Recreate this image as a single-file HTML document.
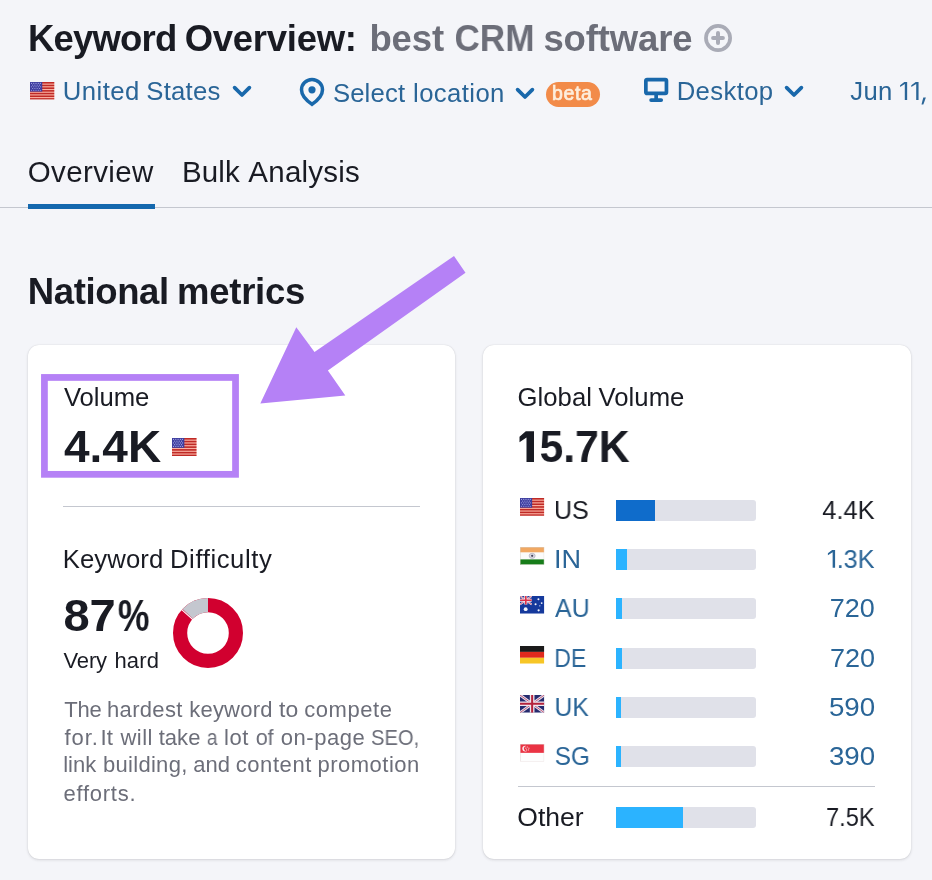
<!DOCTYPE html>
<html>
<head>
<meta charset="utf-8">
<title>Keyword Overview</title>
<style>
html,body{margin:0;padding:0;}
body{width:932px;height:880px;overflow:hidden;background:#f4f5f9;position:relative;font-family:"Liberation Sans",sans-serif;color:#191b23;}
.t{position:absolute;white-space:nowrap;line-height:1;margin:0;padding:0;will-change:transform;}
.b{font-weight:bold;}
.blue{color:#2a6597;}
.gray{color:#6c6e79;}
.abs{position:absolute;}
.card{position:absolute;background:#fff;border-radius:11px;box-shadow:0 0 1px rgba(25,27,35,.16),0 1px 3px rgba(25,27,35,.14);}
.track{position:absolute;left:616px;width:140px;height:21px;background:#e0e1e9;border-radius:0 3px 3px 0;overflow:hidden;}
.track i{display:block;height:100%;background:#2bb3ff;}
.val{position:absolute;right:57px;text-align:right;white-space:nowrap;line-height:1;font-size:25px;}
svg{position:absolute;overflow:visible;}
</style>
</head>
<body>

<svg width="0" height="0" style="position:absolute;left:-10px;top:-10px;">
<defs>
<symbol id="usflag" viewBox="0 0 26 19" preserveAspectRatio="none">
<rect width="26" height="19" fill="#fbb2a4"/>
<g fill="#bf2a26"><rect y="0.000" width="26" height="1.712"/><rect y="2.923" width="26" height="1.712"/><rect y="5.846" width="26" height="1.712"/><rect y="8.769" width="26" height="1.712"/><rect y="11.692" width="26" height="1.712"/><rect y="14.615" width="26" height="1.712"/><rect y="17.538" width="26" height="1.712"/></g>
<rect width="13" height="10.4" fill="#3f3f9f"/>
<g fill="#a3a3e6"><circle cx="1.6" cy="1.50" r=".62"/><circle cx="4.0" cy="1.50" r=".62"/><circle cx="6.4" cy="1.50" r=".62"/><circle cx="8.8" cy="1.50" r=".62"/><circle cx="11.0" cy="1.50" r=".62"/><circle cx="2.8" cy="3.35" r=".62"/><circle cx="5.2" cy="3.35" r=".62"/><circle cx="7.6" cy="3.35" r=".62"/><circle cx="10.0" cy="3.35" r=".62"/><circle cx="1.6" cy="5.20" r=".62"/><circle cx="4.0" cy="5.20" r=".62"/><circle cx="6.4" cy="5.20" r=".62"/><circle cx="8.8" cy="5.20" r=".62"/><circle cx="11.0" cy="5.20" r=".62"/><circle cx="2.8" cy="7.05" r=".62"/><circle cx="5.2" cy="7.05" r=".62"/><circle cx="7.6" cy="7.05" r=".62"/><circle cx="10.0" cy="7.05" r=".62"/><circle cx="1.6" cy="8.90" r=".62"/><circle cx="4.0" cy="8.90" r=".62"/><circle cx="6.4" cy="8.90" r=".62"/><circle cx="8.8" cy="8.90" r=".62"/><circle cx="11.0" cy="8.90" r=".62"/></g>
</symbol>
<symbol id="inflag" viewBox="0 0 24 18" preserveAspectRatio="none">
<rect width="24" height="18" fill="#fbfbfb"/>
<rect width="24" height="5.4" fill="#f1a862"/>
<rect y="12.6" width="24" height="5.4" fill="#177d1a"/>
<ellipse cx="12" cy="9" rx="3" ry="2.6" fill="#d9d7e0" stroke="#aeacbc" stroke-width=".7"/><circle cx="12" cy="9" r="1.1" fill="#45465c"/>
<rect x=".25" y=".25" width="23.5" height="17.5" fill="none" stroke="#d9d3c8" stroke-width=".5"/>
</symbol>
<symbol id="auflag" viewBox="0 0 24 18" preserveAspectRatio="none">
<rect width="24" height="18" fill="#15399c"/>
<g><rect width="11.5" height="8.6" fill="#2a3f9a"/><path d="M0 0L11.5 8.6M11.5 0L0 8.6" stroke="#e9e3ee" stroke-width="1.7"/><path d="M0 0L11.5 8.6M11.5 0L0 8.6" stroke="#d9455a" stroke-width=".7"/><path d="M5.75 0V8.6M0 4.3H11.5" stroke="#f1ecf2" stroke-width="3"/><path d="M5.75 0V8.6M0 4.3H11.5" stroke="#dc3048" stroke-width="1.6"/></g>
<g fill="#f4f5fb"><circle cx="5.6" cy="13.4" r="1.9"/><circle cx="18.2" cy="3.2" r="1"/><circle cx="21.4" cy="7.2" r=".9"/><circle cx="15.4" cy="8.4" r="1"/><circle cx="18.4" cy="14.6" r="1.1"/><circle cx="19.6" cy="10" r=".6"/></g>
</symbol>
<symbol id="deflag" viewBox="0 0 24 18" preserveAspectRatio="none">
<rect width="24" height="6" fill="#1b1a1a"/><rect y="6" width="24" height="6" fill="#e02a1d"/><rect y="12" width="24" height="6" fill="#f7c626"/>
</symbol>
<symbol id="ukflag" viewBox="0 0 24 18" preserveAspectRatio="none">
<rect width="24" height="18" fill="#262b6e"/>
<path d="M0 0L24 18M24 0L0 18" stroke="#e6deee" stroke-width="2.8"/>
<path d="M0 0L24 18M24 0L0 18" stroke="#b8405c" stroke-width=".8"/>
<path d="M12 0V18M0 9H24" stroke="#efe8f0" stroke-width="4.6"/>
<path d="M12 0V18M0 9H24" stroke="#b5233d" stroke-width="2"/>
</symbol>
<symbol id="sgflag" viewBox="0 0 24 18" preserveAspectRatio="none">
<rect width="24" height="18" fill="#fdfdfd"/>
<rect width="24" height="9" fill="#ea3343"/>
<circle cx="5.2" cy="4.6" r="2.9" fill="#fbe9ec"/><circle cx="6.5" cy="4.6" r="2.6" fill="#ea3343"/>
<g fill="#f8dfe3"><circle cx="7.2" cy="3" r=".55"/><circle cx="8.8" cy="4.2" r=".55"/><circle cx="5.8" cy="4.2" r=".55"/><circle cx="6.4" cy="6" r=".55"/><circle cx="8.2" cy="6" r=".55"/></g>
<rect x=".25" y=".25" width="23.5" height="17.5" fill="none" stroke="#e3d6d6" stroke-width=".5"/>
</symbol>
</defs>
</svg>

<!-- HEADER -->
<div class="t b" id="h1a_1" style="left:28.00px;top:20.60px;font-size:36.5px;letter-spacing:-0.832px;text-indent:0.04px;">Keyword</div>
<div class="t b" id="h1a_2" style="left:184.00px;top:20.60px;font-size:36.5px;letter-spacing:-0.292px;text-indent:0.76px;">Overview:</div>
<div class="t b gray" id="h1b_1" style="left:369.00px;top:20.60px;font-size:36.5px;letter-spacing:-0.122px;text-indent:0.40px;">best</div>
<div class="t b gray" id="h1b_2" style="left:454.00px;top:20.60px;font-size:36.5px;letter-spacing:0.000px;text-indent:0.52px;transform:scaleX(0.9631);transform-origin:0 0;">CRM</div>
<div class="t b gray" id="h1b_3" style="left:543.00px;top:20.60px;font-size:36.5px;letter-spacing:-0.121px;text-indent:0.43px;">software</div>
<svg id="plus" style="left:704px;top:24px;" width="28" height="28" viewBox="0 0 28 28"><circle cx="14.05" cy="14.05" r="12.1" fill="none" stroke="#a9abb6" stroke-width="3.7"/><path d="M9.1 14H18.9M14 9.1V18.9" stroke="#a9abb6" stroke-width="4" stroke-linecap="round" fill="none"/></svg>

<!-- filter row -->
<svg id="flagus1" style="left:30px;top:82px;" width="24.5" height="17.5" viewBox="0 0 24.5 17.5"><use href="#usflag"/></svg>
<div class="t blue" id="f1_1" style="left:62.00px;top:79.49px;font-size:25.7px;letter-spacing:0.460px;text-indent:0.82px;">United</div>
<div class="t blue" id="f1_2" style="left:146.00px;top:79.49px;font-size:25.7px;letter-spacing:0.233px;text-indent:0.37px;">States</div>
<svg class="chev" id="chev1" style="left:233px;top:86px;" width="18" height="11" viewBox="0 0 18 11"><path d="M1.6 1.6L9 9L16.4 1.6" fill="none" stroke="#1968ab" stroke-width="3.7" stroke-linecap="round" stroke-linejoin="round"/></svg>

<svg id="pin" style="left:300px;top:78px;" width="24" height="28" viewBox="0 0 24 28"><path d="M12 1.5C6.2 1.5 1.5 6.1 1.5 11.8C1.5 17.2 6.5 22.6 12 26.3C17.5 22.6 22.5 17.2 22.5 11.8C22.5 6.1 17.8 1.5 12 1.5Z" fill="none" stroke="#1968ab" stroke-width="3.5"/><circle cx="12" cy="11.8" r="3.6" fill="#1968ab"/></svg>
<div class="t blue" id="f2_1" style="left:332.00px;top:81.49px;font-size:25.7px;letter-spacing:0.162px;text-indent:0.88px;">Select</div>
<div class="t blue" id="f2_2" style="left:413.00px;top:81.49px;font-size:25.7px;letter-spacing:0.391px;text-indent:0.08px;">location</div>
<svg class="chev" id="chev2" style="left:516px;top:88px;" width="18" height="11" viewBox="0 0 18 11"><path d="M1.6 1.6L9 9L16.4 1.6" fill="none" stroke="#1968ab" stroke-width="3.7" stroke-linecap="round" stroke-linejoin="round"/></svg>
<div class="abs" id="beta" style="left:545.5px;top:82px;width:54.5px;height:24.7px;border-radius:12.4px;background:#f28b49;"></div>
<div class="t" id="betat" style="left:551.00px;top:83.99px;font-size:19.5px;color:#fdeedd;-webkit-text-stroke:0.7px #fdeedd;letter-spacing:0.614px;text-indent:0.97px;">beta</div>

<svg id="desk" style="left:644px;top:77px;" width="25" height="26" viewBox="0 0 25 26"><rect x="1.85" y="2.55" width="20.6" height="13.9" rx="1.2" fill="none" stroke="#1968ab" stroke-width="3.7"/><path d="M12.15 18V22" stroke="#1968ab" stroke-width="3.7"/><path d="M7.1 23.05H17.2" stroke="#1968ab" stroke-width="3.7" stroke-linecap="round"/></svg>
<div class="t blue" id="f3" style="left:676.00px;top:79.44px;font-size:25.7px;letter-spacing:0.382px;text-indent:0.63px;">Desktop</div>
<svg class="chev" id="chev3" style="left:785px;top:86px;" width="18" height="11" viewBox="0 0 18 11"><path d="M1.6 1.6L9 9L16.4 1.6" fill="none" stroke="#1968ab" stroke-width="3.7" stroke-linecap="round" stroke-linejoin="round"/></svg>
<div class="t blue" id="f4_1" style="left:850.00px;top:79.44px;font-size:25.7px;letter-spacing:0.204px;text-indent:0.37px;">Jun</div>

<!-- tabs -->
<div class="t" id="tab1" style="left:27.00px;top:157.03px;font-size:29.5px;letter-spacing:0.378px;text-indent:0.79px;">Overview</div>
<div class="t" id="tab2_1" style="left:181.00px;top:157.03px;font-size:29.5px;letter-spacing:0.165px;text-indent:0.95px;">Bulk</div>
<div class="t" id="tab2_2" style="left:248.00px;top:157.03px;font-size:29.5px;letter-spacing:0.222px;text-indent:0.36px;">Analysis</div>
<div class="abs" id="tabline" style="left:0;top:206.5px;width:932px;height:1.5px;background:#c4c7cf;"></div>
<div class="abs" id="tabul" style="left:28px;top:204px;width:127px;height:5px;background:#1468ae;"></div>

<div class="t b" id="h2_1" style="left:27.00px;top:273.50px;font-size:36.5px;letter-spacing:-0.370px;text-indent:0.77px;">National</div>
<div class="t b" id="h2_2" style="left:176.00px;top:273.50px;font-size:36.5px;letter-spacing:-0.227px;text-indent:0.92px;">metrics</div>

<!-- CARDS -->
<div class="card" id="card1" style="left:28px;top:345px;width:427px;height:513.5px;"></div>
<div class="card" id="card2" style="left:483px;top:345px;width:427.5px;height:513.5px;"></div>

<!-- card 1 -->
<svg id="pbox" style="left:0;top:0;" width="932" height="880"><rect x="44.43" y="377.45" width="191.1" height="96.88" fill="none" stroke="#b581f6" stroke-width="6.75"/></svg>
<div class="t" id="c1a" style="left:63.00px;top:384.94px;font-size:25.7px;letter-spacing:-0.038px;text-indent:0.93px;">Volume</div>
<div class="t b" id="c1b" style="left:63.00px;top:425.33px;font-size:44.5px;letter-spacing:0.000px;text-indent:0.95px;transform:scaleX(1.0334);transform-origin:0 0;">4.4K</div>
<svg id="flagus2" style="left:171.8px;top:438px;" width="24.7" height="18"><use href="#usflag" width="24.7" height="18"/></svg>
<div class="abs" id="div1" style="left:63px;top:505.8px;width:357px;height:1.2px;background:#c4c7cf;"></div>
<div class="t" id="c1c_1" style="left:62.00px;top:546.84px;font-size:25.7px;letter-spacing:0.100px;text-indent:0.72px;">Keyword</div>
<div class="t" id="c1c_2" style="left:169.00px;top:546.84px;font-size:25.7px;letter-spacing:0.592px;text-indent:0.96px;">Difficulty</div>
<div class="t b" id="c1d_1" style="left:63.00px;top:593.93px;font-size:44.5px;letter-spacing:0.000px;transform:scaleX(1.0588);transform-origin:0 0;text-indent:0.39px;">87</div>
<div class="t b" id="c1d_2" style="left:117.00px;top:593.93px;font-size:44.5px;letter-spacing:0.000px;transform:scaleX(0.8013);transform-origin:0 0;text-indent:0.96px;">%</div>
<svg id="donut" style="left:173px;top:597.5px;" width="70" height="70" viewBox="-35 -35 70 70">
<circle r="27.9" fill="none" stroke="#d1002f" stroke-width="14.2"/>
<path d="M0 -27.9A27.9 27.9 0 0 0 -20.34 -19.1" fill="none" stroke="#c4c7cf" stroke-width="14.2"/>
<path d="M-14.9 -13.2L-26.6 -23.6" stroke="#fff" stroke-width="1.1"/>
</svg>
<div class="t" id="c1e_1" style="left:63.00px;top:650.48px;font-size:22px;letter-spacing:-0.123px;text-indent:0.45px;">Very</div>
<div class="t" id="c1e_2" style="left:114.00px;top:650.48px;font-size:22px;letter-spacing:0.222px;text-indent:0.38px;">hard</div>
<div class="t gray" id="p1_1" style="left:64.00px;top:698.98px;font-size:22px;letter-spacing:-0.200px;text-indent:0.20px;">The</div>
<div class="t gray" id="p1_2" style="left:106.00px;top:698.98px;font-size:22px;letter-spacing:0.330px;text-indent:1.00px;">hardest</div>
<div class="t gray" id="p1_3" style="left:189.00px;top:698.98px;font-size:22px;letter-spacing:0.230px;text-indent:0.20px;">keyword</div>
<div class="t gray" id="p1_4" style="left:279.00px;top:698.98px;font-size:22px;letter-spacing:0.000px;transform:scaleX(1.0428);transform-origin:0 0;text-indent:0.09px;">to</div>
<div class="t gray" id="p1_5" style="left:304.00px;top:698.98px;font-size:22px;letter-spacing:0.580px;text-indent:0.16px;">compete</div>
<div class="t gray" id="p2_1" style="left:64.00px;top:727.28px;font-size:22px;letter-spacing:0.938px;text-indent:0.44px;">for.</div>
<div class="t gray" id="p2_2" style="left:100.00px;top:727.28px;font-size:22px;letter-spacing:0.000px;transform:scaleX(1.0126);transform-origin:0 0;text-indent:0.54px;">It</div>
<div class="t gray" id="p2_3" style="left:120.00px;top:727.28px;font-size:22px;letter-spacing:0.497px;text-indent:0.46px;">will</div>
<div class="t gray" id="p2_4" style="left:158.00px;top:727.28px;font-size:22px;letter-spacing:0.044px;text-indent:0.68px;">take</div>
<div class="t gray" id="p2_5" style="left:206.00px;top:727.28px;font-size:22px;letter-spacing:0.000px;transform:scaleX(0.8665);transform-origin:0 0;text-indent:0.99px;">a</div>
<div class="t gray" id="p2_6" style="left:224.00px;top:727.28px;font-size:22px;letter-spacing:0.476px;text-indent:0.08px;">lot</div>
<div class="t gray" id="p2_7" style="left:255.00px;top:727.28px;font-size:22px;letter-spacing:0.000px;transform:scaleX(0.9816);transform-origin:0 0;text-indent:0.64px;">of</div>
<div class="t gray" id="p2_8" style="left:280.00px;top:727.28px;font-size:22px;letter-spacing:0.554px;text-indent:0.72px;">on-page</div>
<div class="t gray" id="p2_9" style="left:371.00px;top:727.28px;font-size:22px;letter-spacing:0.000px;text-indent:0.07px;transform:scaleX(0.9142);transform-origin:0 0;">SEO,</div>
<div class="t gray" id="p3_1" style="left:63.00px;top:753.78px;font-size:22px;letter-spacing:-0.012px;text-indent:0.16px;">link</div>
<div class="t gray" id="p3_2" style="left:102.00px;top:753.78px;font-size:22px;letter-spacing:0.291px;text-indent:1.00px;">building,</div>
<div class="t gray" id="p3_3" style="left:193.00px;top:753.78px;font-size:22px;letter-spacing:0.043px;text-indent:0.18px;">and</div>
<div class="t gray" id="p3_4" style="left:235.00px;top:753.78px;font-size:22px;letter-spacing:0.584px;text-indent:0.70px;">content</div>
<div class="t gray" id="p3_5" style="left:317.00px;top:753.78px;font-size:22px;letter-spacing:0.480px;text-indent:0.56px;">promotion</div>
<div class="t gray" id="p4" style="left:63.00px;top:783.08px;font-size:22px;letter-spacing:0.755px;text-indent:0.47px;">efforts.</div>

<!-- card 2 -->
<div class="t" id="c2a_1" style="left:517.00px;top:385.24px;font-size:25.7px;letter-spacing:0.065px;text-indent:0.45px;">Global</div>
<div class="t" id="c2a_2" style="left:598.00px;top:385.24px;font-size:25.7px;letter-spacing:0.065px;text-indent:0.42px;">Volume</div>
<div class="t b" id="c2b" style="left:539.00px;top:425.33px;font-size:44.5px;letter-spacing:0.000px;text-indent:0.45px;transform:scaleX(0.9606);transform-origin:0 0;">5.7K</div>
<svg id="fl_us" style="left:519.9px;top:498.00px;" width="24.3" height="17.7"><use href="#usflag" width="24.3" height="17.7"/></svg>
<div class="t" id="lb_us" style="left:554.00px;top:496.79px;font-size:26px;letter-spacing:0.000px;transform:scaleX(0.9616);transform-origin:0 0;text-indent:0.00px;">US</div>
<div class="track" id="tr_us" style="top:499.80px;"><i style="width:38.9px;background:#0f6ccb;"></i></div>
<div class="t" id="v_us" style="left:822.00px;top:496.79px;font-size:26px;letter-spacing:0.000px;transform:scaleX(0.9772);transform-origin:0 0;text-indent:0.33px;">4.4K</div>
<svg id="fl_in" style="left:519.9px;top:547.10px;" width="24.3" height="17.7"><use href="#inflag" width="24.3" height="17.7"/></svg>
<div class="t blue" id="lb_in" style="left:554.00px;top:545.79px;font-size:26px;letter-spacing:0.000px;transform:scaleX(1.0408);transform-origin:0 0;text-indent:0.03px;">IN</div>
<div class="track" id="tr_in" style="top:548.90px;"><i style="width:11.2px;background:#2bb3ff;"></i></div>
<div class="t blue" id="v_in" style="left:836.00px;top:545.79px;font-size:26px;letter-spacing:0.000px;transform:scaleX(0.9743);transform-origin:0 0;text-indent:0.65px;">.3K</div>
<svg id="fl_au" style="left:519.9px;top:596.00px;" width="24.3" height="17.7"><use href="#auflag" width="24.3" height="17.7"/></svg>
<div class="t blue" id="lb_au" style="left:555.00px;top:594.99px;font-size:26px;letter-spacing:0.000px;transform:scaleX(0.9561);transform-origin:0 0;text-indent:0.09px;">AU</div>
<div class="track" id="tr_au" style="top:597.80px;"><i style="width:6.3px;background:#2bb3ff;"></i></div>
<div class="t blue" id="v_au" style="left:829.00px;top:594.99px;font-size:26px;letter-spacing:0.000px;transform:scaleX(1.0381);transform-origin:0 0;text-indent:0.77px;">720</div>
<svg id="fl_de" style="left:519.9px;top:645.90px;" width="24.3" height="17.7"><use href="#deflag" width="24.3" height="17.7"/></svg>
<div class="t blue" id="lb_de" style="left:554.00px;top:644.79px;font-size:26px;letter-spacing:0.000px;transform:scaleX(0.8900);transform-origin:0 0;text-indent:0.17px;">DE</div>
<div class="track" id="tr_de" style="top:647.70px;"><i style="width:6.3px;background:#2bb3ff;"></i></div>
<div class="t blue" id="v_de" style="left:830.00px;top:644.79px;font-size:26px;letter-spacing:0.000px;transform:scaleX(1.0395);transform-origin:0 0;text-indent:0.06px;">720</div>
<svg id="fl_uk" style="left:519.9px;top:695.00px;" width="24.3" height="17.7"><use href="#ukflag" width="24.3" height="17.7"/></svg>
<div class="t blue" id="lb_uk" style="left:554.00px;top:693.59px;font-size:26px;letter-spacing:0.000px;transform:scaleX(0.9509);transform-origin:0 0;text-indent:0.38px;">UK</div>
<div class="track" id="tr_uk" style="top:696.80px;"><i style="width:5.2px;background:#2bb3ff;"></i></div>
<div class="t blue" id="v_uk" style="left:828.00px;top:693.59px;font-size:26px;letter-spacing:0.000px;transform:scaleX(1.0656);transform-origin:0 0;text-indent:0.91px;">590</div>
<svg id="fl_sg" style="left:519.9px;top:744.10px;" width="24.3" height="17.7"><use href="#sgflag" width="24.3" height="17.7"/></svg>
<div class="t blue" id="lb_sg" style="left:554.00px;top:742.69px;font-size:26px;letter-spacing:0.000px;transform:scaleX(0.9374);transform-origin:0 0;text-indent:0.69px;">SG</div>
<div class="track" id="tr_sg" style="top:745.90px;"><i style="width:5.0px;background:#2bb3ff;"></i></div>
<div class="t blue" id="v_sg" style="left:828.00px;top:742.69px;font-size:26px;letter-spacing:0.000px;transform:scaleX(1.0643);transform-origin:0 0;text-indent:0.90px;">390</div>
<div class="abs" id="div2" style="left:518px;top:786px;width:357px;height:1.2px;background:#c4c7cf;"></div>
<div class="t" id="lb_ot" style="left:517.00px;top:804.94px;font-size:25.7px;letter-spacing:0.000px;transform:scaleX(1.0331);transform-origin:0 0;text-indent:0.27px;">Other</div>
<div class="track" id="tr_ot" style="top:806.7px;"><i style="width:67px;"></i></div>
<div class="t" id="v_ot" style="left:826.00px;top:803.69px;font-size:26px;letter-spacing:0.000px;transform:scaleX(0.9075);transform-origin:0 0;text-indent:0.02px;">7.5K</div>

<svg id="ones" style="left:0;top:0;" width="932" height="880"><polygon points="907.15,82.0 907.15,99.9 904.8,99.9 904.8,83.9 900.1,86.9 900.1,85.2 904.3,82.0" fill="#2a6597"/><polygon points="918.55,82.0 918.55,99.9 916.2,99.9 916.2,83.9 911.3,86.9 911.3,85.2 915.7,82.0" fill="#2a6597"/><polygon points="923.3,97.5 925.9,97.5 923.3,104.4 921.5,104.4" fill="#2a6597"/><polygon points="835.1,549.9 835.1,567.7 832.65,567.7 832.65,552.2 827.9,555.2 827.9,553.3 832.15,549.9" fill="#2a6597"/><polygon points="534,431.2 534,461.9 526.5,461.9 526.5,437.6 519.5,442.3 519.5,436.8 525.8,431.2" fill="#191b23"/></svg>
<!-- arrow -->
<svg id="arrow" style="left:0;top:0;" width="932" height="880"><polygon points="454,256.1 465.5,272.7 327.9,370.6 345.3,395.6 260.3,403.6 296.3,327.2 314.5,352.1" fill="#b581f6"/></svg>

</body>
</html>
